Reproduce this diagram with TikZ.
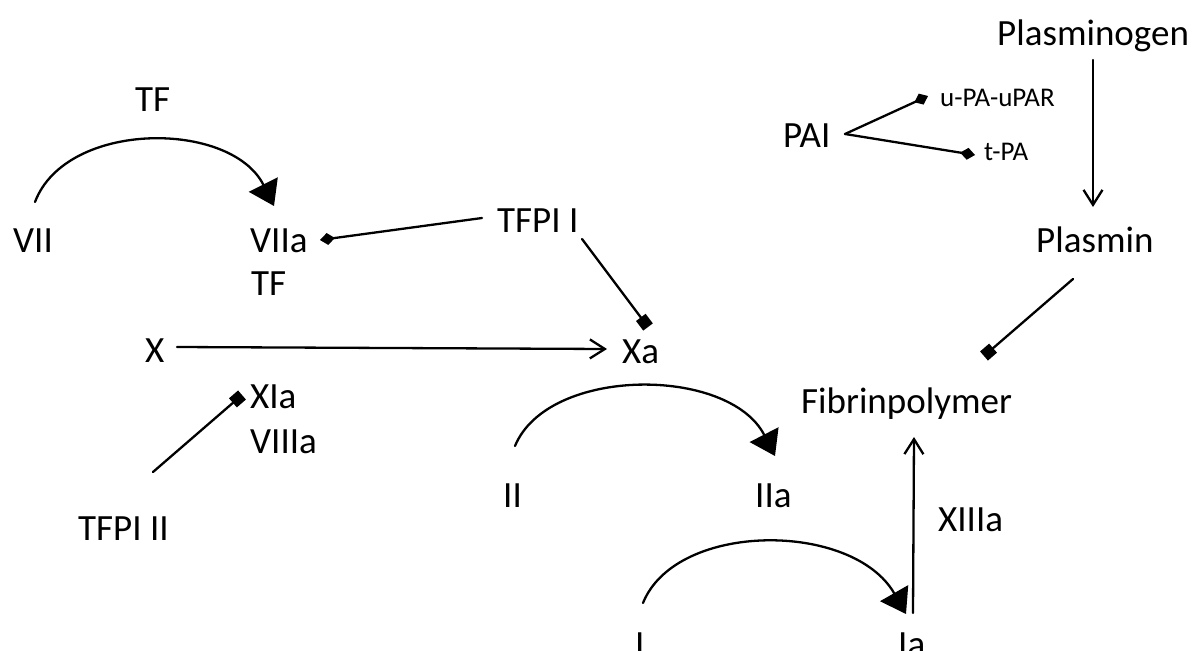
\documentclass[tikz,border=0pt]{standalone}
\usepackage{fontspec}
\setmainfont{Carlito}
\usetikzlibrary{arrows.meta}

\tikzset{
  lbl/.style={anchor=base west, inner sep=0pt, font=\fontsize{37}{44}\selectfont},
  slbl/.style={anchor=base west, inner sep=0pt, font=\fontsize{27}{32}\selectfont},
  link/.style={line width=2.3pt, line cap=round},
  convert/.style={link, -{Triangle[length=24pt,width=32pt]}},
  yields/.style={link, -{Straight Barb[length=15pt,width=19pt,line width=2.3pt]}},
  blocksq/.style={link, -{Square[length=12pt,width=12pt]}},
  blockdm/.style={link, -{Diamond[length=15pt,width=12pt]}},
}

\begin{document}
\begin{tikzpicture}[x=1pt,y=-1pt]
\useasboundingbox (0,0) rectangle (1203,651);
\clip (0,0) rectangle (1203,651);

% factors and inhibitors
\node[lbl] (TFtop)   at (135,111) {TF};
\node[lbl] (VII)     at (13,252)  {VII};
\node[lbl] (VIIa)    at (250,252) {VIIa};
\node[lbl] (TFlow)   at (251,295) {TF};
\node[lbl] (TFPI1)   at (497,232) {TFPI I};
\node[lbl] (X)       at (145,362) {X};
\node[lbl] (Xa)      at (622,363) {Xa};
\node[lbl] (XIa)     at (250,408) {XIa};
\node[lbl] (VIIIa)   at (250,453) {VIIIa};
\node[lbl] (TFPI2)   at (78,540)  {TFPI II};
\node[lbl] (II)      at (503,507) {II};
\node[lbl] (IIa)     at (755,507) {IIa};
\node[lbl] (I)       at (635,656) {I};
\node[lbl] (Ia)      at (898,656) {Ia};
\node[lbl] (XIIIa)   at (938,531) {XIIIa};
\node[lbl] (Fibrin)  at (801,413) {Fibrinpolymer};
\node[lbl] (Plgn)    at (997,45)  {Plasminogen};
\node[lbl] (Plasmin) at (1036,252) {Plasmin};
\node[lbl] (PAI)     at (783,147) {PAI};
\node[slbl] (uPA)    at (940,106) {u-PA-uPAR};
\node[slbl] (tPA)    at (984,160) {t-PA};

% connector end points beside the labels
\coordinate (VII-out)    at (35,202);
\coordinate (VIIa-in)    at (274,206);
\coordinate (VIIa-e)     at (320,240);
\coordinate (TFPI1-w)    at (482,218);
\coordinate (TFPI1-s)    at (582,239);
\coordinate (Xa-n)       at (648,327);
\coordinate (X-e)        at (177,347);
\coordinate (Xa-w)       at (607,349);
\coordinate (TFPI2-n)    at (153,472);
\coordinate (XIa-w)      at (242,395);
\coordinate (II-out)     at (515,446);
\coordinate (IIa-in)     at (775,456);
\coordinate (I-out)      at (643,603);
\coordinate (Ia-in)      at (906,614);
\coordinate (Ia-n)       at (913,613);
\coordinate (Fibrin-s)   at (914,437);
\coordinate (Plasmin-sw) at (1073,279);
\coordinate (Fibrin-ne)  at (984,356);
\coordinate (Plgn-s)     at (1093,60);
\coordinate (Plasmin-n)  at (1093,207);
\coordinate (PAI-e)      at (845,134);
\coordinate (uPA-w)      at (928,96);
\coordinate (tPA-w)      at (975,155);

% activation arcs
\draw[convert] (VII-out) .. controls (66,120) and (231,120) .. (VIIa-in);
\draw[convert] (II-out) .. controls (548,366) and (729,366) .. (IIa-in);
\draw[convert] (I-out) .. controls (676,521) and (853,521) .. (Ia-in);

% straight conversions
\draw[yields] (X-e) -- (Xa-w);
\draw[yields] (Ia-n) -- (Fibrin-s);
\draw[yields] (Plgn-s) -- (Plasmin-n);

% inhibitions
\draw[blockdm] (TFPI1-w) -- (VIIa-e);
\draw[blocksq] (TFPI1-s) -- (Xa-n);
\draw[blocksq] (TFPI2-n) -- (XIa-w);
\draw[blocksq] (Plasmin-sw) -- (Fibrin-ne);
\draw[blockdm] (PAI-e) -- (uPA-w);
\draw[blockdm] (PAI-e) -- (tPA-w);
\end{tikzpicture}
\end{document}
